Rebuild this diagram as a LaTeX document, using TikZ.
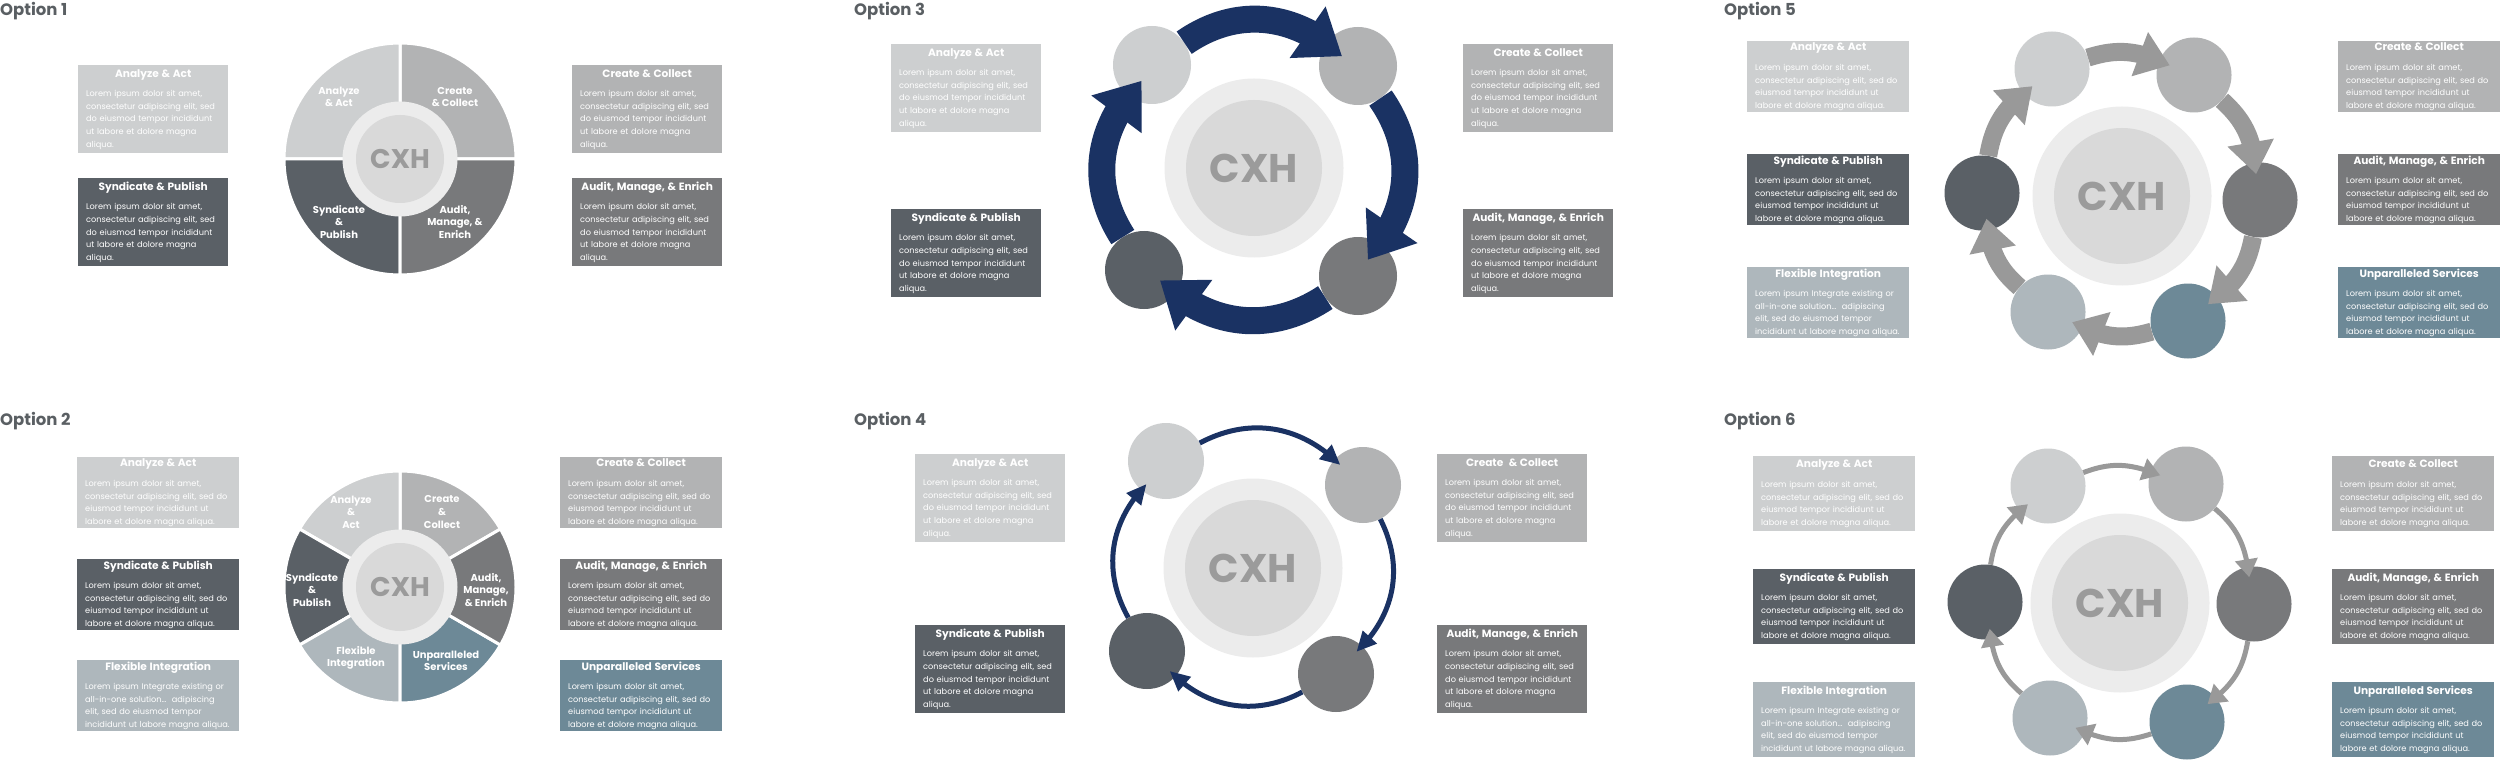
\documentclass[tikz,border=0pt]{standalone}
\usepackage{fontspec}
\setmainfont{Poppins}
\usetikzlibrary{positioning,arrows.meta,bending,backgrounds}
\definecolor{anac}{HTML}{CDCFD0}
\definecolor{crec}{HTML}{B2B3B4}
\definecolor{sync}{HTML}{5A6066}
\definecolor{audc}{HTML}{78797B}
\definecolor{flec}{HTML}{AEB7BC}
\definecolor{unpc}{HTML}{6D8997}
\definecolor{navy}{HTML}{1A3263}
\definecolor{arrg}{HTML}{999999}
\definecolor{ringc}{HTML}{ECECEC}
\definecolor{hubc}{HTML}{D9D9D9}
\definecolor{hubtxt}{HTML}{9B9B9B}
\definecolor{dashc}{HTML}{A6A6A6}
\definecolor{ttlc}{HTML}{5A5F63}
\newcommand\hubbig{\bfseries\fontsize{40}{40}\selectfont}
\newcommand\hubsmall{\bfseries\fontsize{27}{27}\selectfont}
\newcommand\btitle[1]{\hspace*{\fill}{\bfseries\fontsize{10.6}{12.6}\selectfont #1}\hspace*{\fill}\null\\[7pt]}
\newcommand\loremFive{Lorem ipsum dolor sit amet,\\consectetur adipiscing elit, sed\\do eiusmod tempor incididunt\\ut labore et dolore magna\\aliqua.}
\newcommand\loremFour{Lorem ipsum dolor sit amet,\\consectetur adipiscing elit, sed do\\eiusmod tempor incididunt ut\\labore et dolore magna aliqua.}
\newcommand\flexFour{Lorem ipsum Integrate existing or\\all-in-one solution\ldots\ \ adipiscing\\elit, sed do eiusmod tempor\\incididunt ut labore magna aliqua.}
\tikzset{
  info/.style={fill=#1,text=white,anchor=north west,align=left,inner xsep=8pt,inner ysep=0pt,font=\fontsize{8.2}{12.6}\selectfont},
  boxA/.style={minimum width=150pt,minimum height=88pt,text width=134pt},
  boxB/.style={minimum width=162pt,minimum height=71pt,text width=146pt},
  boxC/.style={boxB,minimum height=75pt},
  disc/.style={circle,fill=#1,inner sep=0pt,minimum size=75pt},
  hubring/.style={circle,fill=ringc,inner sep=0pt},
  hub/.style={circle,fill=hubc,inner sep=0pt,text=hubtxt},
  seglab/.style={text=white,align=center,font=\bfseries\fontsize{10}{12.6}\selectfont},
  dashln/.style={draw=dashc,line width=1.3pt,dash pattern=on 3.5pt off 2pt},
  optlab/.style={anchor=north west,inner sep=0pt,text=ttlc,font=\bfseries\fontsize{16.5}{16.5}\selectfont},
  navybig/.style={draw=navy,line width=27pt,-{Triangle[length=42pt,width=60pt,flex]},shorten >=-20pt},
  navythin/.style={draw=navy,line width=5pt,-{Triangle[length=20pt,width=18pt,flex]},shorten >=-8pt},
  graybig/.style={draw=arrg,line width=18pt,-{Triangle[length=32pt,width=45pt,flex]},shorten >=-11pt},
  graythin/.style={draw=arrg,line width=5pt,-{Triangle[length=18pt,width=22pt,flex]},shorten >=-10pt},
}
\begin{document}
\begin{tikzpicture}[x=1pt,y=1pt]
\path[use as bounding box,fill=white] (0,0) rectangle (2500,-762);
% option 1: four-part wheel
\node[optlab] (opt1) at (0,-2) {Option 1};
\coordinate (pie1) at (400,-159);
\coordinate (row1a) at (400,-106);
\coordinate (row1b) at (400,-224);
\node[info=anac,boxA] (ana1) at (78,-65) {\btitle{Analyze \& Act}\loremFive};
\node[info=sync,boxA] (syn1) at (78,-178) {\btitle{Syndicate \& Publish}\loremFive};
\node[info=crec,boxA] (cre1) at (572,-65) {\btitle{Create \& Collect}\loremFive};
\node[info=audc,boxA] (aud1) at (572,-178) {\btitle{Audit, Manage, \& Enrich}\loremFive};
\foreach \a/\b/\c in {0/90/crec,90/180/anac,180/270/sync,270/360/audc}
  \fill[\c,draw=white,line width=3pt] (pie1) -- ++(\a:116) arc[start angle=\a,end angle=\b,radius=116] -- cycle;
\node[hubring,minimum size=115pt] (ring1) at (pie1) {};
\node[hub,minimum size=88pt,font=\hubsmall] (hub1) at (pie1) {CXH};
\node[seglab] (lab1a) at (339,-97) {Analyze\\\& Act};
\node[seglab] (lab1b) at (455,-97) {Create\\\& Collect};
\node[seglab] (lab1c) at (339,-222) {Syndicate\\\&\\Publish};
\node[seglab] (lab1d) at (455,-222) {Audit,\\Manage, \&\\Enrich};
% option 2: six-part wheel
\node[optlab] (opt2) at (0,-412) {Option 2};
\coordinate (pie2) at (400,-587);
\coordinate (row2a) at (400,-516);
\coordinate (row2b) at (400,-592);
\coordinate (row2c) at (400,-674);
\node[info=anac,boxB] (ana2) at (77,-457) {\btitle{Analyze \& Act}\loremFour};
\node[info=sync,boxB] (syn2) at (77,-559) {\btitle{Syndicate \& Publish}\loremFour};
\node[info=flec,boxB] (fle2) at (77,-660) {\btitle{Flexible Integration}\flexFour};
\node[info=crec,boxB] (cre2) at (560,-457) {\btitle{Create \& Collect}\loremFour};
\node[info=audc,boxB] (aud2) at (560,-559) {\btitle{Audit, Manage, \& Enrich}\loremFour};
\node[info=unpc,boxB] (unp2) at (560,-660) {\btitle{Unparalleled Services}\loremFour};
\foreach \a/\b/\c in {30/90/crec,90/150/anac,150/210/sync,210/270/flec,270/330/unpc,330/390/audc}
  \fill[\c,draw=white,line width=3pt] (pie2) -- ++(\a:116) arc[start angle=\a,end angle=\b,radius=116] -- cycle;
\node[hubring,minimum size=115pt] (ring2) at (pie2) {};
\node[hub,minimum size=88pt,font=\hubsmall] (hub2) at (pie2) {CXH};
\node[seglab] (lab2a) at (351,-512) {Analyze\\\&\\Act};
\node[seglab] (lab2b) at (442,-512) {Create\\\&\\Collect};
\node[seglab] (lab2c) at (312,-590) {Syndicate\\\&\\Publish};
\node[seglab] (lab2d) at (486,-590) {Audit,\\Manage,\\\& Enrich};
\node[seglab] (lab2e) at (356,-658) {Flexible\\Integration};
\node[seglab] (lab2f) at (446,-661) {Unparalleled\\Services};
% option 3: four steps, heavy navy arrows
\node[optlab] (opt3) at (854,-2) {Option 3};
\coordinate (row3a) at (1254,-70);
\coordinate (row3b) at (1254,-265);
\node[info=anac,boxA] (ana3) at (891,-44) {\btitle{Analyze \& Act}\loremFive};
\node[info=sync,boxA] (syn3) at (891,-209) {\btitle{Syndicate \& Publish}\loremFive};
\node[info=crec,boxA] (cre3) at (1463,-44) {\btitle{Create \& Collect}\loremFive};
\node[info=audc,boxA] (aud3) at (1463,-209) {\btitle{Audit, Manage, \& Enrich}\loremFive};
\node[hubring,minimum size=179pt] (ring3) at (1254,-168) {};
\node[hub,minimum size=136pt,font=\hubbig] (hub3) at (ring3) {CXH};
\node[disc=anac,minimum size=78pt] (ana3d) at (1152,-65) {};
\node[disc=crec,minimum size=78pt] (cre3d) at (1358,-66) {};
\node[disc=sync,minimum size=78pt] (syn3d) at (1144,-270) {};
\node[disc=audc,minimum size=78pt] (aud3d) at (1358,-276) {};
\foreach \p/\q in {ana3d/cre3d,cre3d/aud3d,aud3d/syn3d,syn3d/ana3d}
  \draw[navybig] (\p) to[bend left=35] (\q);
% option 4: four steps, thin navy arrows
\node[optlab] (opt4) at (854,-412) {Option 4};
\coordinate (row4a) at (1253,-480);
\coordinate (row4b) at (1253,-666);
\node[info=anac,boxA] (ana4) at (915,-454) {\btitle{Analyze \& Act}\loremFive};
\node[info=sync,boxA] (syn4) at (915,-625) {\btitle{Syndicate \& Publish}\loremFive};
\node[info=crec,boxA] (cre4) at (1437,-454) {\btitle{Create\ \ \& Collect}\loremFive};
\node[info=audc,boxA] (aud4) at (1437,-625) {\btitle{Audit, Manage, \& Enrich}\loremFive};
\node[hubring,minimum size=179pt] (ring4) at (1253,-568) {};
\node[hub,minimum size=136pt,font=\hubbig] (hub4) at (ring4) {CXH};
\node[disc=anac,minimum size=76pt] (ana4d) at (1166,-461) {};
\node[disc=crec,minimum size=76pt] (cre4d) at (1363,-485) {};
\node[disc=sync,minimum size=76pt] (syn4d) at (1147,-651) {};
\node[disc=audc,minimum size=76pt] (aud4d) at (1336,-674) {};
\foreach \p/\q in {ana4d/cre4d,cre4d/aud4d,aud4d/syn4d,syn4d/ana4d}
  \draw[navythin] (\p) to[bend left=35] (\q);
% option 5: six steps, heavy gray arrows
\node[optlab] (opt5) at (1724,-2) {Option 5};
\coordinate (row5a) at (2122,-59);
\coordinate (row5b) at (2122,-189);
\coordinate (row5c) at (2122,-317);
\node[info=anac,boxB] (ana5) at (1747,-41) {\btitle{Analyze \& Act}\loremFour};
\node[info=sync,boxB] (syn5) at (1747,-154) {\btitle{Syndicate \& Publish}\loremFour};
\node[info=flec,boxB] (fle5) at (1747,-267) {\btitle{Flexible Integration}\flexFour};
\node[info=crec,boxB] (cre5) at (2338,-41) {\btitle{Create \& Collect}\loremFour};
\node[info=audc,boxB] (aud5) at (2338,-154) {\btitle{Audit, Manage, \& Enrich}\loremFour};
\node[info=unpc,boxB] (unp5) at (2338,-267) {\btitle{Unparalleled Services}\loremFour};
\node[hubring,minimum size=179pt] (ring5) at (2122,-196) {};
\node[hub,minimum size=136pt,font=\hubbig] (hub5) at (ring5) {CXH};
\node[disc=anac] (ana5d) at (2052,-69) {};
\node[disc=crec] (cre5d) at (2194,-75) {};
\node[disc=audc] (aud5d) at (2260,-200) {};
\node[disc=unpc] (unp5d) at (2188,-321) {};
\node[disc=flec] (fle5d) at (2048,-312) {};
\node[disc=sync] (syn5d) at (1982,-193) {};
\foreach \p/\q in {ana5d/cre5d,cre5d/aud5d,aud5d/unp5d,unp5d/fle5d,fle5d/syn5d,syn5d/ana5d}
  \draw[graybig] (\p) to[bend left=20] (\q);
% option 6: six steps, thin gray arrows
\node[optlab] (opt6) at (1724,-412) {Option 6};
\coordinate (row6a) at (2120,-477);
\coordinate (row6b) at (2120,-607);
\coordinate (row6c) at (2120,-734);
\node[info=anac,boxC] (ana6) at (1753,-456) {\btitle{Analyze \& Act}\loremFour};
\node[info=sync,boxC] (syn6) at (1753,-569) {\btitle{Syndicate \& Publish}\loremFour};
\node[info=flec,boxC] (fle6) at (1753,-682) {\btitle{Flexible Integration}\flexFour};
\node[info=crec,boxC] (cre6) at (2332,-456) {\btitle{Create \& Collect}\loremFour};
\node[info=audc,boxC] (aud6) at (2332,-569) {\btitle{Audit, Manage, \& Enrich}\loremFour};
\node[info=unpc,boxC] (unp6) at (2332,-682) {\btitle{Unparalleled Services}\loremFour};
\node[hubring,minimum size=179pt] (ring6) at (2120,-603) {};
\node[hub,minimum size=136pt,font=\hubbig] (hub6) at (ring6) {CXH};
\node[disc=anac] (ana6d) at (2048,-486) {};
\node[disc=crec] (cre6d) at (2186,-484) {};
\node[disc=audc] (aud6d) at (2254,-604) {};
\node[disc=unpc] (unp6d) at (2187,-722) {};
\node[disc=flec] (fle6d) at (2050,-718) {};
\node[disc=sync] (syn6d) at (1985,-602) {};
\foreach \p/\q in {ana6d/cre6d,cre6d/aud6d,aud6d/unp6d,unp6d/fle6d,fle6d/syn6d,syn6d/ana6d}
  \draw[graythin] (\p) to[bend left=20] (\q);
% dashed leaders, behind everything
\begin{scope}[on background layer]
\draw[dashln] (ana1.east |- row1a) -- (cre1.west |- row1a);
\draw[dashln] (syn1.east |- row1b) -- (aud1.west |- row1b);
\draw[dashln] (ana2.east |- row2a) -- (cre2.west |- row2a);
\draw[dashln] (syn2.east |- row2b) -- (aud2.west |- row2b);
\draw[dashln] (fle2.east |- row2c) -- (unp2.west |- row2c);
\draw[dashln] (ana3.east |- row3a) -- (ana3d |- row3a);
\draw[dashln] (cre3d |- row3a) -- (cre3.west |- row3a);
\draw[dashln] (syn3.east |- row3b) -- (syn3d |- row3b);
\draw[dashln] (aud3d |- row3b) -- (aud3.west |- row3b);
\draw[dashln] (ana4.east |- row4a) -- (ana4d |- row4a);
\draw[dashln] (cre4d |- row4a) -- (cre4.west |- row4a);
\draw[dashln] (syn4.east |- row4b) -- (syn4d |- row4b);
\draw[dashln] (aud4d |- row4b) -- (aud4.west |- row4b);
\draw[dashln] (ana5.east |- row5a) -- (ana5d |- row5a);
\draw[dashln] (cre5d |- row5a) -- (cre5.west |- row5a);
\draw[dashln] (syn5.east |- row5b) -- (syn5d |- row5b);
\draw[dashln] (aud5d |- row5b) -- (aud5.west |- row5b);
\draw[dashln] (fle5.east |- row5c) -- (fle5d |- row5c);
\draw[dashln] (unp5d |- row5c) -- (unp5.west |- row5c);
\draw[dashln] (ana6.east |- row6a) -- (ana6d |- row6a);
\draw[dashln] (cre6d |- row6a) -- (cre6.west |- row6a);
\draw[dashln] (syn6.east |- row6b) -- (syn6d |- row6b);
\draw[dashln] (aud6d |- row6b) -- (aud6.west |- row6b);
\draw[dashln] (fle6.east |- row6c) -- (fle6d |- row6c);
\draw[dashln] (unp6d |- row6c) -- (unp6.west |- row6c);
\end{scope}
\end{tikzpicture}
\end{document}
